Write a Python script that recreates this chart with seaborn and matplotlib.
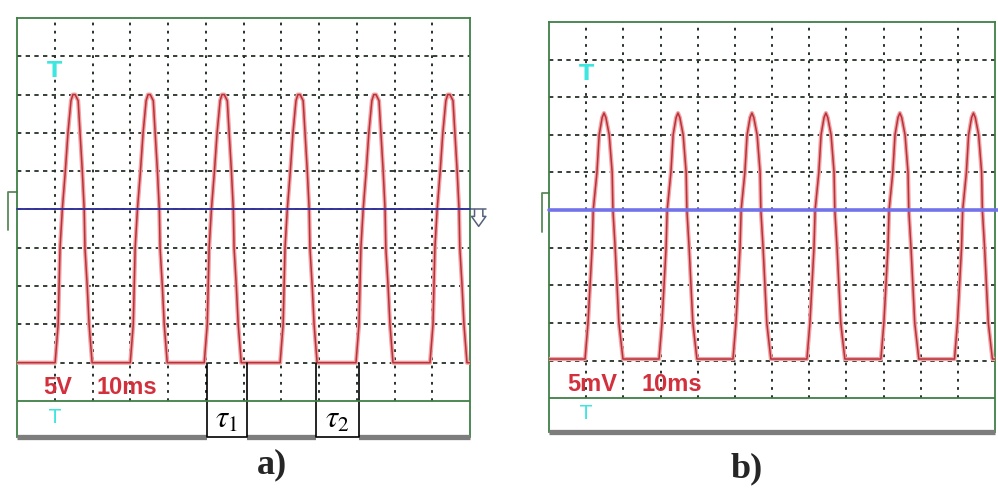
import matplotlib
matplotlib.use("Agg")
import matplotlib.pyplot as plt
from matplotlib.patches import Rectangle
import seaborn as sns
import pandas as pd

# time base: 10 ms/div, 12 div across; 10 div vertically
grid_t = [10, 20, 30, 40, 50, 60, 70, 80, 90, 100, 110]
grid_v = [-20, -15, -10, -5, 0, 5, 10, 15, 20]

# a) 5 V/div - one pulse (ms from onset, V)
pulse_a_dt = [0, 0.8, 1.3, 1.9, 2.7, 3.4, 4.2, 4.7, 5.3, 6.1, 6.6, 7.2, 7.7, 7.9, 8.5, 9.0, 9.8]
pulse_a_v = [-20, -15, -5, 0, 5, 10, 14.2, 15, 15, 14.2, 10, 5, 0, -5, -10, -15, -20]
onsets_a = [10.1, 30.0, 49.6, 69.7, 89.8, 109.4]
base_a = -20
taus_a = [(50.3, 60.9, r"$\tau_1$"), (79.2, 90.6, r"$\tau_2$")]

# b) 5 mV/div
pulse_b_dt = [0, 0.8, 1.35, 1.9, 2.2, 3.2, 3.8, 4.6, 5.1, 5.6, 6.5, 7.3, 7.5, 8.1, 8.6, 9.1, 10.2]
pulse_b_v = [-19.8, -15, -10, -5, 0, 5, 10, 12.3, 12.9, 12.3, 10, 5, 0, -5, -10, -15, -19.8]
onsets_b = [9.7, 29.6, 49.5, 69.4, 89.3, 109.1]
base_b = -19.8


def make_trace(onsets, dt, v, base):
    t = [0.0]
    y = [base]
    for t0 in onsets:
        t += [t0 + d for d in dt]
        y += v
    t.append(120.0)
    y.append(base)
    return pd.DataFrame({"t": t, "v": y})


sns.set_style("white")
plt.rcParams["font.family"] = ["Liberation Sans", "DejaVu Sans"]
plt.rcParams["mathtext.fontset"] = "stix"

GREEN = "#3f7f45"
GRID = "#26322a"
RED_CORE = "#b8323a"
RED_HALO = "#f2a3a6"
CYAN = "#3ee6e0"


def draw_panel(ax, df, ylo, blue, blue_lw, blue_end, volts, v_x, ms_x):
    ax.set_xlim(0, 120)
    ax.set_ylim(ylo, 25)
    ax.set_xticks([])
    ax.set_yticks([])
    for side in ["left", "right", "top"]:
        ax.spines[side].set_color(GREEN)
        ax.spines[side].set_linewidth(1.3)
    ax.spines["bottom"].set_visible(False)

    frac = (-25 - ylo) / (25 - ylo)
    for t in grid_t:
        ax.axvline(t, ymin=frac, ymax=1, color=GRID, lw=1.4, dashes=(1.4, 2.8), zorder=1)
    for v in grid_v:
        ax.axhline(v, color=GRID, lw=1.3, dashes=(2.4, 2.4), zorder=1)
    ax.plot([0, 120], [ylo, ylo], color="#7d7d7d", lw=3.8, solid_capstyle="butt",
            clip_on=False, zorder=3)

    sns.lineplot(data=df, x="t", y="v", ax=ax, sort=False, estimator=None,
                 color=RED_HALO, lw=3.0, zorder=4)
    sns.lineplot(data=df, x="t", y="v", ax=ax, sort=False, estimator=None,
                 color=RED_CORE, lw=1.1, zorder=5)
    ax.plot([0, blue_end], [0, 0], color=blue, lw=blue_lw, clip_on=False, zorder=6)
    ax.set_xlabel("")
    ax.set_ylabel("")

    ax.text(v_x, -23.2, volts, color="#d2303c", fontsize=17, fontweight="bold",
            ha="left", va="center", zorder=7)
    ax.text(ms_x, -23.2, "10ms", color="#d2303c", fontsize=17, fontweight="bold",
            ha="left", va="center", zorder=7)
    ax.text(10, 18.1, "T", color=CYAN, fontsize=16, fontweight="bold",
            ha="center", va="center", family="DejaVu Sans", zorder=7)
    ax.text(10, -27.1, "T", color=CYAN, fontsize=14,
            ha="center", va="center", family="DejaVu Sans", zorder=7)


fig = plt.figure(figsize=(9.98, 4.9), dpi=100)
ax_a = fig.add_axes([17 / 998, 1 - 437 / 490, 453 / 998, 419 / 490])
ax_b = fig.add_axes([549 / 998, 1 - 432 / 490, 446 / 998, 410 / 490])

df_a = make_trace(onsets_a, pulse_a_dt, pulse_a_v, base_a)
df_b = make_trace(onsets_b, pulse_b_dt, pulse_b_v, base_b)

ylo_a = -29.7
ylo_b = -29.5
draw_panel(ax_a, df_a, ylo_a, "#34349c", 1.4, 120, "5V", 6.9, 21.0)
draw_panel(ax_b, df_b, ylo_b, "#7272ea", 2.6, 121, "5mV", 4.8, 25.0)

# level marker on the left edge
ax_a.plot([0, -2.4, -2.4], [2.3, 2.3, -2.7], color="#5a8a5a", lw=1.3, clip_on=False)
ax_b.plot([0, -1.9, -1.9], [2.3, 2.3, -2.9], color="#5a8a5a", lw=1.3, clip_on=False)

# trigger arrow at the right end of the trace line in a)
ax_a.plot([120, 124.2], [0, 0], color="#55607a", lw=1.1, clip_on=False)
ax_a.plot([121.2, 121.2, 120.4, 122.3, 124.2, 123.4, 123.4],
          [0, -0.9, -0.9, -2.2, -0.9, -0.9, 0], color="#55607a", lw=1.1, clip_on=False)

# tau intervals in a)
for x0, x1, lab in taus_a:
    ax_a.add_patch(Rectangle((x0, ylo_a - 0.6), x1 - x0, -25.3 - ylo_a + 0.6,
                             facecolor="white", edgecolor="none", zorder=6, clip_on=False))
    ax_a.plot([x0, x0, x1, x1], [base_a, ylo_a, ylo_a, base_a], color="black",
              lw=1.2, clip_on=False, zorder=7)
    ax_a.text((x0 + x1) / 2, -27.4, lab, fontsize=22, ha="center", va="center",
              color="black", zorder=8)

# strip separator drawn over the boxes
for ax in [ax_a, ax_b]:
    ax.axhline(-25, color=GREEN, lw=1.3, zorder=7)

fig.text(272 / 998, 1 - 465 / 490, "a)", family=["Liberation Serif", "DejaVu Serif"],
         fontweight="bold", fontsize=26, ha="center", va="center")
fig.text(747 / 998, 1 - 469 / 490, "b)", family=["Liberation Serif", "DejaVu Serif"],
         fontweight="bold", fontsize=26, ha="center", va="center")

fig.savefig("out.png", dpi=100, facecolor="white")
